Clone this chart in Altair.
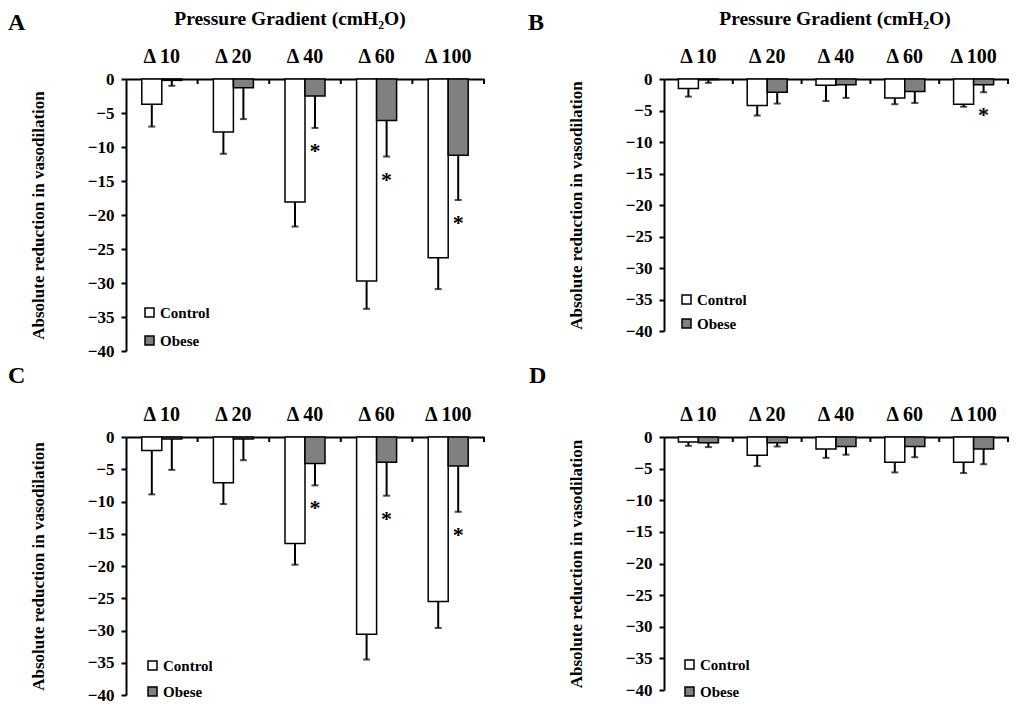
import altair as alt
import pandas as pd

categories = ["Δ 10", "Δ 20", "Δ 40", "Δ 60", "Δ 100"]
groups = ["Control", "Obese"]
bar_colors = ["#ffffff", "#808080"]

# Panel A
a_control = [-3.7, -7.8, -18.1, -29.7, -26.3]
a_control_se = [3.3, 3.2, 3.6, 4.1, 4.6]
a_obese = [-0.2, -1.3, -2.5, -6.1, -11.2]
a_obese_se = [0.8, 4.6, 4.7, 5.3, 6.6]
a_stars = ["Δ 40", "Δ 60", "Δ 100"]

# Panel B
b_control = [-1.5, -4.2, -1.0, -3.0, -4.0]
b_control_se = [1.3, 1.6, 2.5, 1.0, 0.4]
b_obese = [-0.1, -2.1, -0.9, -2.0, -0.9]
b_obese_se = [0.5, 1.8, 2.1, 1.8, 1.2]
b_stars = ["Δ 100"]

# Panel C
c_control = [-2.1, -7.1, -16.5, -30.6, -25.5]
c_control_se = [6.8, 3.3, 3.3, 3.9, 4.1]
c_obese = [-0.3, -0.3, -4.1, -3.9, -4.5]
c_obese_se = [4.8, 3.3, 3.4, 5.2, 7.1]
c_stars = ["Δ 40", "Δ 60", "Δ 100"]

# Panel D
d_control = [-0.8, -2.9, -1.9, -4.0, -4.0]
d_control_se = [0.6, 1.7, 1.4, 1.6, 1.7]
d_obese = [-0.9, -0.9, -1.5, -1.5, -1.9]
d_obese_se = [0.7, 0.6, 1.3, 1.7, 2.4]
d_stars = []

y_ticks = [-40, -35, -30, -25, -20, -15, -10, -5, 0]
title_text = "Pressure Gradient (cmH₂O)"
y_title = "Absolute reduction in vasodilation"

FONT = "Liberation Serif"


def panel_df(control, control_se, obese, obese_se, stars):
    rows = []
    for i, c in enumerate(categories):
        rows.append(dict(cat=c, group="Control", mean=control[i],
                         low=control[i] - control_se[i], star=""))
        rows.append(dict(cat=c, group="Obese", mean=obese[i],
                         low=obese[i] - obese_se[i],
                         star="*" if c in stars else ""))
    return pd.DataFrame(rows)


def make_panel(df, letter, letter_x, letter_y, width, height, title_x,
               legend_x, legend_y, row_pad):
    x_scale = alt.Scale(paddingInner=0, paddingOuter=0)
    x_axis = alt.Axis(orient="top", title=None, ticks=False, tickSize=0,
                      labelAngle=0, labelFont=FONT, labelFontSize=20,
                      labelFontWeight="bold", labelColor="black",
                      labelPadding=13, domainColor="black", domainWidth=2)
    pad_outer = (width / 5.0 / 20.0 - 2) / 2
    xo = alt.XOffset("group:N", sort=groups,
                     scale=alt.Scale(paddingInner=0, paddingOuter=pad_outer))
    y_scale = alt.Scale(domain=[-40, 0], nice=False)
    y_axis = alt.Axis(title=y_title, values=y_ticks, grid=False,
                      labelFont=FONT, labelFontSize=17, labelFontWeight="bold",
                      labelColor="black", labelPadding=7, tickSize=5,
                      tickWidth=2, tickColor="black", domainColor="black",
                      domainWidth=2, titleFont=FONT, titleFontSize=17,
                      titleFontWeight="bold", titleColor="black",
                      titlePadding=40)

    def X(**kw):
        return alt.X("cat:N", sort=categories, scale=x_scale, axis=x_axis, **kw)

    def Y(field):
        return alt.Y(field, type="quantitative", scale=y_scale, axis=y_axis)

    base = alt.Chart(df)
    bars = base.mark_bar(stroke="black", strokeWidth=1.5).encode(
        x=X(), xOffset=xo, y=Y("mean"),
        color=alt.Color("group:N", sort=groups,
                        scale=alt.Scale(domain=groups, range=bar_colors),
                        legend=alt.Legend(orient="none", legendX=legend_x,
                                          legendY=legend_y, title=None,
                                          direction="vertical",
                                          symbolType="square", symbolSize=81,
                                          symbolStrokeColor="black",
                                          symbolStrokeWidth=1.5,
                                          labelFont=FONT, labelFontSize=15,
                                          labelFontWeight="bold",
                                          labelColor="black", labelOffset=3,
                                          rowPadding=row_pad, padding=0)),
    )
    err = base.mark_rule(color="black", strokeWidth=2).encode(
        x=X(), xOffset=xo, y=Y("mean"), y2="low:Q")
    caps = base.mark_tick(color="black", thickness=2, size=7).encode(
        x=X(), xOffset=xo, y=Y("low"))
    stars = base.transform_filter("datum.star != ''").mark_text(
        font=FONT, fontSize=22, fontWeight="bold", color="black",
        baseline="alphabetic", dy=30).encode(
        x=X(), xOffset=xo, y=Y("low"), text="star:N")
    ticks = alt.Chart(pd.DataFrame({"cat": categories})).mark_rule(
        color="black", strokeWidth=2).encode(
        x=X(bandPosition=1), y=alt.value(0), y2=alt.value(5))
    lab = alt.Chart(pd.DataFrame({"t": [letter]})).mark_text(
        align="left", baseline="alphabetic", font=FONT, fontSize=24,
        fontWeight="bold", color="black").encode(
        x=alt.value(letter_x), y=alt.value(letter_y), text="t:N")
    layers = [bars, err, caps, stars, ticks, lab]
    if title_x is not None:
        ttl = alt.Chart(pd.DataFrame({"t": [title_text]})).mark_text(
            align="center", baseline="alphabetic", font=FONT, fontSize=19.5,
            fontWeight="bold", color="black").encode(
            x=alt.value(title_x), y=alt.value(-54), text="t:N")
        layers.append(ttl)
    return alt.layer(*layers).properties(width=width, height=height)


pa = make_panel(panel_df(a_control, a_control_se, a_obese, a_obese_se, a_stars),
                "A", -118, -49, 358, 272, 164, 16, 226, 12)
pb = make_panel(panel_df(b_control, b_control_se, b_obese, b_obese_se, b_stars),
                "B", -136, -49, 344, 252, 171, 15, 213, 8)
pc = make_panel(panel_df(c_control, c_control_se, c_obese, c_obese_se, c_stars),
                "C", -118, -54, 358, 258, None, 19, 221, 10)
pd_ = make_panel(panel_df(d_control, d_control_se, d_obese, d_obese_se, d_stars),
                 "D", -135, -54, 344, 253, None, 18, 220, 11)

chart = alt.concat(pa, pb, pc, pd_, columns=2,
                   spacing={"row": 5, "column": 43}).resolve_scale(
    x="independent", y="independent", xOffset="independent"
).resolve_legend(color="independent").properties(
    padding={"top": 1, "left": 0, "right": 0, "bottom": 0}, background="white"
).configure_view(stroke=None)

chart.save("out.html", embed_options={"renderer": "svg", "actions": False})
